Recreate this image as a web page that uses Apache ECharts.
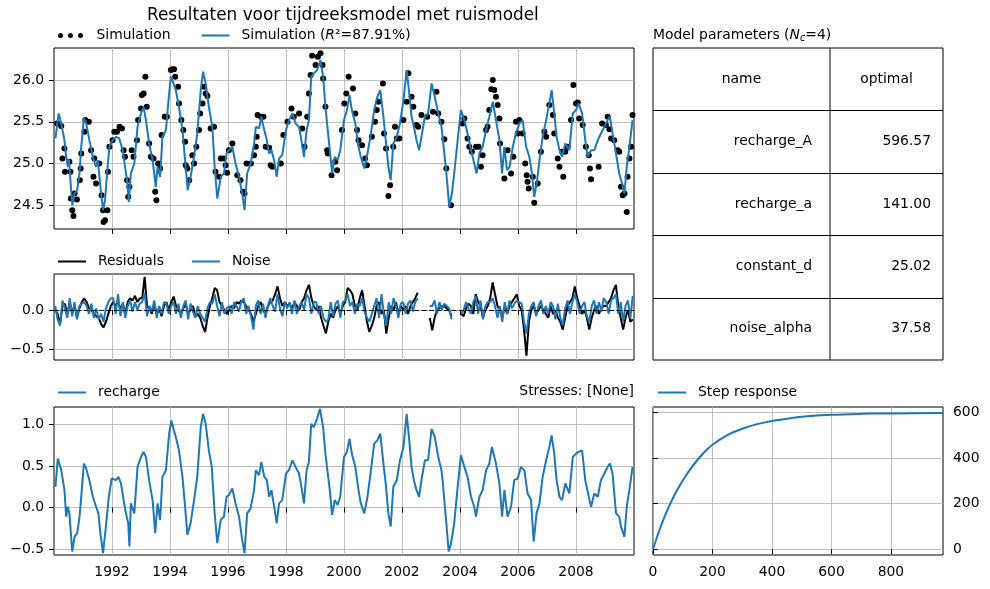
<!DOCTYPE html>
<html>
<head>
<meta charset="utf-8">
<title>Resultaten voor tijdreeksmodel met ruismodel</title>
<script src="https://cdn.jsdelivr.net/npm/echarts@6/dist/echarts.min.js"></script>
<style>
  html, body { margin: 0; padding: 0; background: #fff; }
  #chart { width: 990px; height: 589px; }
</style>
</head>
<body>
<div id="chart"></div>
<script>
// ---- data (decimal years) ----
const obsData = [
  [1990.11,25.48],[1990.25,25.45],[1990.29,25.06],[1990.36,25.18],[1990.38,24.9],[1990.53,25.02],[1990.57,24.9],[1990.58,24.58],
  [1990.63,24.44],[1990.67,24.37],[1990.71,24.64],[1990.79,24.57],[1990.89,24.8],[1990.92,24.94],[1990.94,25.12],[1991.05,25.38],
  [1991.08,25.52],[1991.2,25.5],[1991.28,25.16],[1991.36,24.84],[1991.39,25.06],[1991.45,24.76],[1991.56,25.0],[1991.64,24.62],
  [1991.69,24.44],[1991.71,24.3],[1991.76,24.32],[1991.84,24.44],[1991.86,24.9],[1991.91,25.2],[1992.02,25.28],[1992.08,25.38],
  [1992.17,25.38],[1992.26,25.44],[1992.34,25.42],[1992.4,25.16],[1992.45,25.08],[1992.52,24.8],[1992.56,24.6],[1992.6,24.72],
  [1992.68,25.16],[1992.74,25.08],[1992.86,25.28],[1992.9,25.52],[1993.0,25.66],[1993.03,25.82],[1993.09,25.84],[1993.15,26.04],
  [1993.2,25.68],[1993.28,25.24],[1993.34,25.08],[1993.43,25.06],[1993.49,24.66],[1993.53,24.56],[1993.59,25.0],[1993.66,24.94],
  [1993.71,25.34],[1993.82,25.56],[1993.89,25.56],[1994.03,26.12],[1994.08,26.13],[1994.14,26.13],[1994.18,26.04],[1994.28,25.92],
  [1994.31,25.72],[1994.39,25.52],[1994.46,25.4],[1994.52,25.26],[1994.54,24.98],[1994.6,24.94],[1994.66,24.8],[1994.77,25.1],
  [1994.83,25.0],[1994.91,25.2],[1995.0,25.4],[1995.04,25.6],[1995.12,25.72],[1995.17,25.92],[1995.23,25.84],[1995.29,25.81],
  [1995.4,25.42],[1995.52,25.44],[1995.57,24.9],[1995.69,24.84],[1995.75,25.06],[1995.84,25.06],[1995.92,24.98],[1995.97,24.89],
  [1996.03,25.16],[1996.15,25.24],[1996.32,24.86],[1996.43,24.8],[1996.52,24.66],[1996.57,24.64],[1996.64,25.0],[1996.79,25.0],
  [1996.9,25.1],[1996.96,25.2],[1996.99,25.32],[1997.02,25.58],[1997.13,25.56],[1997.22,25.56],[1997.3,25.2],[1997.42,25.19],
  [1997.47,24.98],[1997.53,24.96],[1997.82,25.0],[1997.91,25.34],[1998.05,25.5],[1998.19,25.66],[1998.27,25.56],[1998.45,25.6],
  [1998.56,25.42],[1998.64,25.2],[1998.73,25.56],[1998.79,25.84],[1998.85,26.06],[1998.9,26.29],[1999.02,26.18],[1999.1,26.28],
  [1999.19,26.32],[1999.26,26.18],[1999.28,26.02],[1999.36,25.68],[1999.42,25.16],[1999.44,25.12],[1999.57,24.86],[1999.7,25.02],
  [1999.76,24.92],[1999.93,25.4],[2000.01,25.72],[2000.08,25.84],[2000.16,26.04],[2000.31,25.9],[2000.39,25.6],[2000.45,25.4],
  [2000.5,25.28],[2000.62,25.22],[2000.73,25.06],[2000.79,24.98],[2000.96,25.32],[2001.07,25.5],[2001.13,25.64],[2001.19,25.74],
  [2001.34,25.96],[2001.38,25.36],[2001.45,25.18],[2001.53,24.61],[2001.59,24.74],[2001.7,25.2],[2001.76,25.44],[2001.82,25.3],
  [2001.91,25.3],[2002.05,25.52],[2002.16,25.74],[2002.22,26.08],[2002.33,25.8],[2002.39,25.68],[2002.5,25.46],[2002.56,25.44],
  [2002.67,25.58],[2002.87,25.56],[2003.07,25.62],[2003.19,25.86],[2003.25,25.6],[2003.36,25.5],[2003.46,25.29],[2003.53,24.94],
  [2003.69,24.5],[2004.09,25.48],[2004.15,25.54],[2004.26,25.3],[2004.32,25.2],[2004.41,25.14],[2004.55,25.2],[2004.64,25.2],
  [2004.72,24.96],[2004.78,25.1],[2004.9,25.4],[2004.95,25.44],[2005.01,25.64],[2005.08,25.89],[2005.13,26.0],[2005.18,25.88],
  [2005.24,25.8],[2005.3,25.7],[2005.36,25.54],[2005.38,25.24],[2005.53,24.82],[2005.64,25.16],[2005.76,24.88],[2005.84,25.08],
  [2005.93,25.5],[2005.99,25.36],[2006.05,25.52],[2006.16,25.36],[2006.25,25.0],[2006.3,24.86],[2006.33,24.78],[2006.37,24.7],
  [2006.51,24.84],[2006.56,24.53],[2006.68,24.76],[2006.79,25.14],[2006.91,25.38],[2006.97,25.32],[2007.08,25.7],[2007.2,25.58],
  [2007.25,25.36],[2007.37,25.06],[2007.43,24.96],[2007.52,25.14],[2007.56,24.84],[2007.63,25.14],[2007.71,25.2],[2007.83,25.52],
  [2007.91,25.94],[2008.0,25.72],[2008.06,25.73],[2008.11,25.54],[2008.23,25.46],[2008.34,25.2],[2008.44,25.1],[2008.48,24.94],
  [2008.52,24.81],[2008.78,24.96],[2008.9,25.48],[2009.03,25.46],[2009.09,25.56],[2009.15,25.41],[2009.21,25.3],[2009.32,25.28],
  [2009.44,25.16],[2009.49,25.14],[2009.55,24.72],[2009.61,24.62],[2009.67,24.64],[2009.75,24.42],[2009.78,24.84],[2009.84,25.06],
  [2009.9,25.2],[2009.95,25.58]
];

const simData = [
  [1990.05,25.3],[1990.16,25.6],[1990.25,25.48],[1990.36,25.28],[1990.42,25.08],[1990.48,24.96],[1990.51,25.05],[1990.55,24.88],
  [1990.63,24.5],[1990.71,24.64],[1990.8,24.68],[1990.88,24.88],[1990.93,25.16],[1991.03,25.54],[1991.11,25.48],[1991.22,25.28],
  [1991.34,25.08],[1991.45,24.96],[1991.51,25.04],[1991.6,24.72],[1991.69,24.44],[1991.76,24.56],[1991.83,24.88],[1991.91,25.2],
  [1992.02,25.28],[1992.14,25.32],[1992.25,25.3],[1992.37,25.16],[1992.45,24.96],[1992.52,24.8],[1992.58,24.54],[1992.65,24.88],
  [1992.77,25.0],[1992.88,25.44],[1993.0,25.6],[1993.09,25.68],[1993.17,25.52],[1993.28,25.24],[1993.4,25.04],[1993.51,24.72],
  [1993.57,24.96],[1993.66,24.84],[1993.74,25.32],[1993.86,25.4],[1993.97,25.84],[1994.03,26.04],[1994.12,25.96],[1994.2,25.88],
  [1994.31,25.68],[1994.43,25.4],[1994.52,25.04],[1994.61,24.68],[1994.71,24.84],[1994.83,25.08],[1994.94,25.36],[1995.06,25.88],
  [1995.14,26.1],[1995.23,25.96],[1995.34,25.68],[1995.46,25.44],[1995.54,24.96],[1995.63,24.58],[1995.75,24.84],[1995.86,24.88],
  [1995.95,25.12],[1996.03,25.16],[1996.15,25.2],[1996.26,25.0],[1996.38,24.84],[1996.49,24.64],[1996.57,24.44],[1996.66,24.88],
  [1996.78,25.0],[1996.9,25.24],[1996.96,25.44],[1997.07,25.42],[1997.15,25.56],[1997.25,25.4],[1997.34,25.28],[1997.42,25.12],
  [1997.5,25.16],[1997.59,25.04],[1997.68,24.84],[1997.76,25.06],[1997.87,25.1],[1998.0,25.4],[1998.1,25.52],[1998.22,25.6],
  [1998.33,25.48],[1998.45,25.44],[1998.53,25.28],[1998.62,25.08],[1998.71,25.4],[1998.79,25.52],[1998.87,26.04],[1998.96,26.08],
  [1999.07,26.12],[1999.19,26.24],[1999.28,26.04],[1999.36,25.68],[1999.44,25.4],[1999.51,25.16],[1999.59,24.88],[1999.68,25.08],
  [1999.78,25.04],[1999.87,25.16],[2000.0,25.52],[2000.1,25.64],[2000.19,25.82],[2000.27,25.64],[2000.39,25.48],[2000.5,25.2],
  [2000.58,25.08],[2000.7,24.94],[2000.81,25.12],[2000.93,25.36],[2001.04,25.64],[2001.15,25.8],[2001.25,25.88],[2001.36,25.56],
  [2001.45,25.24],[2001.53,24.96],[2001.61,24.8],[2001.7,25.24],[2001.82,25.32],[2001.93,25.48],[2002.05,25.76],[2002.16,26.12],
  [2002.25,25.84],[2002.33,25.56],[2002.41,25.44],[2002.5,25.28],[2002.59,25.16],[2002.67,25.32],[2002.79,25.56],[2002.9,25.6],
  [2003.02,25.96],[2003.13,25.8],[2003.25,25.6],[2003.36,25.44],[2003.4,25.32],[2003.52,24.92],[2003.63,24.48],[2003.72,24.64],
  [2003.8,24.88],[2003.92,25.28],[2004.03,25.64],[2004.15,25.52],[2004.26,25.36],[2004.38,25.16],[2004.49,25.0],[2004.57,24.88],
  [2004.67,25.12],[2004.78,25.2],[2004.9,25.4],[2005.01,25.56],[2005.13,25.74],[2005.24,25.52],[2005.36,25.28],[2005.45,24.88],
  [2005.53,25.2],[2005.62,24.92],[2005.71,24.96],[2005.82,25.2],[2005.93,25.36],[2006.05,25.48],[2006.16,25.52],[2006.28,25.2],
  [2006.39,25.08],[2006.48,24.88],[2006.56,24.6],[2006.66,24.8],[2006.74,25.04],[2006.85,25.32],[2006.97,25.52],[2007.08,25.72],
  [2007.16,25.88],[2007.25,25.6],[2007.33,25.32],[2007.43,25.16],[2007.52,25.08],[2007.63,25.24],[2007.77,25.16],[2007.89,25.6],
  [2008.0,25.64],[2008.09,25.72],[2008.21,25.6],[2008.32,25.28],[2008.4,25.08],[2008.52,25.16],[2008.63,25.16],[2008.75,25.28],
  [2008.86,25.36],[2008.98,25.44],[2009.09,25.52],[2009.17,25.56],[2009.26,25.36],[2009.38,25.12],[2009.49,24.88],[2009.59,24.76],
  [2009.67,24.64],[2009.75,24.96],[2009.84,25.2],[2009.95,25.52]
];

const rechargeData = [
  [1990.05,0.25],[1990.13,0.59],[1990.25,0.45],[1990.36,0.21],[1990.42,-0.11],[1990.48,0.01],[1990.53,-0.07],[1990.63,-0.53],
  [1990.71,-0.35],[1990.8,-0.31],[1990.88,-0.11],[1990.93,0.09],[1991.03,0.53],[1991.11,0.47],[1991.22,0.33],[1991.34,0.13],
  [1991.45,0.01],[1991.53,-0.07],[1991.6,-0.31],[1991.69,-0.55],[1991.79,-0.23],[1991.89,0.13],[1991.99,0.35],[1992.14,0.33],
  [1992.22,0.37],[1992.31,0.29],[1992.4,0.09],[1992.48,-0.07],[1992.56,-0.19],[1992.6,-0.47],[1992.65,0.05],[1992.77,-0.07],
  [1992.88,0.49],[1993.0,0.61],[1993.09,0.67],[1993.17,0.61],[1993.28,0.33],[1993.4,0.09],[1993.49,-0.31],[1993.57,0.05],
  [1993.66,-0.15],[1993.74,0.37],[1993.86,0.45],[1993.97,0.89],[1994.05,1.05],[1994.12,0.95],[1994.2,0.85],[1994.31,0.69],
  [1994.43,0.37],[1994.52,0.01],[1994.6,-0.33],[1994.71,-0.19],[1994.83,0.09],[1994.94,0.37],[1995.06,0.97],[1995.14,1.13],
  [1995.23,1.01],[1995.34,0.69],[1995.44,0.49],[1995.54,-0.07],[1995.63,-0.43],[1995.75,-0.15],[1995.86,-0.11],[1995.95,0.13],
  [1996.03,0.15],[1996.15,0.23],[1996.26,0.05],[1996.38,-0.11],[1996.49,-0.39],[1996.57,-0.55],[1996.66,-0.07],[1996.78,-0.01],
  [1996.9,0.21],[1996.96,0.45],[1997.07,0.39],[1997.15,0.55],[1997.25,0.37],[1997.34,0.33],[1997.42,0.13],[1997.5,0.21],
  [1997.59,0.01],[1997.68,-0.19],[1997.76,0.05],[1997.87,0.09],[1998.0,0.41],[1998.1,0.45],[1998.22,0.57],[1998.33,0.49],
  [1998.45,0.41],[1998.53,0.25],[1998.62,0.05],[1998.71,0.45],[1998.79,0.55],[1998.87,1.01],[1998.96,0.97],[1999.07,1.07],
  [1999.17,1.19],[1999.28,0.97],[1999.36,0.65],[1999.44,0.41],[1999.51,0.21],[1999.59,-0.09],[1999.68,0.09],[1999.78,0.03],
  [1999.87,0.13],[2000.0,0.61],[2000.1,0.67],[2000.19,0.83],[2000.27,0.65],[2000.39,0.49],[2000.5,0.21],[2000.58,0.05],
  [2000.7,-0.07],[2000.81,0.13],[2000.93,0.45],[2001.04,0.77],[2001.15,0.81],[2001.25,0.89],[2001.36,0.53],[2001.45,0.25],
  [2001.53,-0.07],[2001.61,-0.23],[2001.7,0.25],[2001.82,0.33],[2001.93,0.57],[2002.05,0.73],[2002.16,1.13],[2002.25,0.81],
  [2002.33,0.49],[2002.41,0.33],[2002.5,0.21],[2002.59,0.13],[2002.67,0.33],[2002.79,0.57],[2002.9,0.57],[2003.02,0.95],
  [2003.13,0.85],[2003.25,0.61],[2003.36,0.45],[2003.4,0.33],[2003.52,-0.15],[2003.61,-0.53],[2003.69,-0.43],[2003.8,-0.19],
  [2003.92,0.25],[2004.03,0.63],[2004.15,0.49],[2004.26,0.37],[2004.38,0.13],[2004.49,0.01],[2004.55,-0.11],[2004.67,0.13],
  [2004.78,0.21],[2004.9,0.45],[2005.01,0.53],[2005.1,0.73],[2005.24,0.53],[2005.36,0.29],[2005.45,-0.11],[2005.53,0.21],
  [2005.64,-0.11],[2005.76,0.01],[2005.87,0.33],[2005.99,0.35],[2006.1,0.49],[2006.22,0.45],[2006.33,0.17],[2006.45,0.09],
  [2006.54,-0.41],[2006.64,-0.07],[2006.74,0.05],[2006.85,0.37],[2006.97,0.57],[2007.08,0.73],[2007.16,0.87],[2007.25,0.65],
  [2007.33,0.33],[2007.43,0.13],[2007.52,0.09],[2007.63,0.29],[2007.77,0.17],[2007.89,0.61],[2008.0,0.65],[2008.09,0.67],
  [2008.21,0.69],[2008.32,0.33],[2008.44,0.13],[2008.52,0.01],[2008.63,0.17],[2008.75,0.13],[2008.86,0.33],[2008.98,0.41],
  [2009.09,0.49],[2009.17,0.53],[2009.26,0.41],[2009.38,-0.07],[2009.49,-0.11],[2009.55,-0.23],[2009.67,-0.35],[2009.75,0.01],
  [2009.84,0.21],[2009.95,0.49]
];

// monthly residuals and noise, Jan..Dec per row, null = no observations
const residualValues = [
  0.0, -0.05, -0.18, 0.05, 0.08, -0.06, 0.1, -0.04, 0.06, -0.1, 0.02, 0.1,        // 1990
  0.15, 0.1, 0.02, 0.0, -0.05, -0.08, -0.1, -0.18, -0.22, -0.15, -0.05, 0.05,     // 1991
  0.1, 0.05, 0.12, 0.0, 0.08, -0.05, 0.1, 0.15, 0.12, 0.18, 0.1, 0.15,            // 1992
  0.15, 0.42, 0.05, 0.02, -0.05, 0.08, -0.05, 0.02, -0.08, 0.05, 0.1, 0.0,        // 1993
  0.1, 0.17, 0.05, 0.0, -0.05, 0.02, 0.08, -0.05, 0.0, 0.05, -0.08, -0.05,        // 1994
  -0.1, -0.2, -0.28, -0.1, 0.05, 0.15, 0.28, 0.25, 0.1, 0.05, 0.0, -0.05,         // 1995
  0.0, 0.05, 0.02, 0.1, 0.08, 0.12, 0.1, 0.05, 0.0, -0.05, -0.15, -0.05,          // 1996
  0.05, 0.1, 0.0, -0.05, 0.05, 0.1, 0.12, 0.2, 0.3, 0.15, 0.05, 0.1,              // 1997
  0.05, 0.08, 0.02, 0.1, 0.05, 0.0, 0.1, 0.15, 0.25, 0.32, 0.15, 0.05,            // 1998
  0.0, 0.05, -0.1, -0.2, -0.3, -0.15, -0.05, -0.1, 0.0, 0.05, -0.05, 0.05,        // 1999
  0.1, 0.28, 0.25, 0.2, 0.05, 0.0, 0.15, 0.25, 0.05, -0.15, -0.28, -0.2,          // 2000
  -0.1, 0.05, 0.1, -0.05, 0.0, -0.3, -0.1, 0.05, 0.0, 0.1, -0.05, 0.05,           // 2001
  0.0, 0.05, -0.05, 0.05, 0.1, 0.15, 0.22, null, null, null, null, -0.1,         // 2002
  -0.26, -0.1, 0.0, 0.02, 0.05, 0.05, 0.02, 0.0, -0.08, null, null, null,        // 2003
  -0.05, -0.08, 0.02, 0.08, 0.05, -0.05, 0.2, 0.1, 0.05, -0.1, 0.0, 0.05,         // 2004
  0.15, 0.35, 0.2, 0.05, 0.0, -0.1, 0.05, -0.05, 0.05, 0.1, 0.15, 0.2,            // 2005
  0.05, 0.0, -0.25, -0.58, -0.15, 0.0, 0.05, -0.05, 0.0, 0.05, 0.0, -0.05,        // 2006
  -0.1, 0.05, -0.05, 0.0, -0.1, -0.15, -0.25, -0.1, 0.05, 0.1, 0.15, 0.3,         // 2007
  0.15, 0.05, -0.05, 0.0, -0.1, -0.25, -0.1, 0.0, 0.05, -0.05, 0.02, 0.05,        // 2008
  0.05, 0.1, 0.15, 0.25, 0.32, 0.05, -0.1, -0.25, -0.1, 0.0, -0.15, -0.12         // 2009
];
const noiseValues = [
  0.05, -0.12, -0.2, 0.12, 0.02, -0.1, 0.15, -0.08, 0.1, -0.12, 0.05, 0.08,       // 1990
  0.1, 0.05, -0.05, 0.08, -0.1, 0.02, -0.12, -0.05, -0.15, 0.02, 0.1, 0.15,       // 1991
  0.15, -0.05, 0.2, -0.08, 0.1, -0.1, 0.05, 0.12, -0.02, 0.1, 0.0, 0.08,          // 1992
  0.1, 0.22, -0.08, 0.05, -0.02, 0.12, -0.1, 0.05, -0.05, 0.1, 0.08, -0.05,       // 1993
  0.05, 0.1, -0.05, 0.08, -0.1, 0.05, 0.12, -0.12, 0.08, -0.02, -0.1, 0.05,       // 1994
  -0.05, -0.1, -0.15, 0.02, 0.1, 0.08, 0.2, 0.05, -0.08, 0.1, -0.05, 0.02,        // 1995
  0.05, -0.05, 0.1, 0.05, -0.02, 0.1, 0.15, -0.05, 0.05, -0.08, -0.25, 0.05,      // 1996
  0.12, -0.05, 0.08, -0.1, 0.05, 0.15, 0.05, -0.02, 0.2, 0.02, -0.08, 0.1,        // 1997
  0.02, 0.1, -0.05, 0.12, -0.05, 0.05, 0.1, 0.0, 0.2, 0.15, -0.05, 0.1,           // 1998
  0.1, -0.05, 0.05, -0.1, -0.15, -0.12, 0.1, -0.08, 0.08, 0.12, -0.1, 0.1,        // 1999
  0.12, 0.2, 0.05, 0.1, -0.05, 0.08, 0.05, 0.15, -0.02, -0.1, -0.15, -0.05,       // 2000
  0.05, 0.15, -0.1, 0.2, -0.05, -0.2, 0.1, -0.05, 0.15, 0.05, -0.1, 0.08,         // 2001
  0.1, -0.05, 0.08, 0.12, -0.02, 0.1, 0.15, null, null, null, null, 0.05,        // 2002
  0.05, 0.12, -0.05, 0.1, 0.0, 0.08, 0.05, 0.02, -0.12, null, null, null,        // 2003
  -0.05, 0.0, 0.1, 0.02, -0.05, 0.1, 0.18, -0.05, 0.12, -0.12, 0.05, 0.1,         // 2004
  0.1, 0.15, 0.05, -0.1, 0.05, -0.15, 0.1, -0.05, 0.12, 0.02, 0.08, 0.12,         // 2005
  0.1, 0.08, -0.15, -0.3, -0.05, 0.05, 0.1, -0.08, 0.05, 0.12, -0.05, 0.05,       // 2006
  -0.05, 0.1, 0.05, -0.12, 0.08, -0.1, -0.2, 0.02, 0.12, -0.05, 0.1, 0.2,         // 2007
  0.1, -0.05, 0.05, 0.1, -0.08, -0.15, 0.05, 0.12, -0.05, 0.1, -0.02, 0.15,       // 2008
  0.1, -0.05, 0.12, 0.15, 0.2, -0.05, 0.1, -0.15, 0.05, 0.12, -0.1, 0.18          // 2009
];

const stepData = [
  [0,0],[20,78],[40,146],[60,205],[80,256],[100,301],[125,350],[150,392],[175,428],[200,458],
  [250,500],[300,528],[350,548],[400,562],[450,572],[500,580],[600,589],[700,593],[800,595],[975,597]
];

const paramNames = ['recharge_A', 'recharge_a', 'constant_d', 'noise_alpha'];
const paramValues = ['596.57', '141.00', '25.02', '37.58'];

// tick positions
const yearTicks = [1992, 1994, 1996, 1998, 2000, 2002, 2004, 2006, 2008];
const headTicks = [24.5, 25.0, 25.5, 26.0];
const residTicks = [-0.5, 0.0];
const rechTicks = [-0.5, 0.0, 0.5, 1.0];
const lagTicks = [0, 200, 400, 600, 800];
const stepTicks = [0, 200, 400, 600];

// ---- helpers ----
const FONT = 'DejaVu Sans';
const FS = 13.9;          // 10pt at 100 dpi
const BLUE = '#1f77b4';
const monthT = i => +(1990 + (i + 0.5) / 12).toFixed(3);
const monthly = vals => vals.map((v, i) => [monthT(i), v == null ? '-' : v]);
const minus = (v, d) => (v < 0 ? '\u2212' : '') + Math.abs(v).toFixed(d);

const labelStyle = {color: '#000', fontSize: FS, fontFamily: FONT};
const gridLine = {show: true, lineStyle: {color: '#b0b0b0', width: 0.8}};

function makeAxis(gridIndex, min, max, ticks, opts) {
  opts = opts || {};
  return {
    type: 'value', gridIndex, min, max,
    position: opts.position,
    axisLine: {show: false},
    axisTick: {show: true, length: 5, customValues: ticks, lineStyle: {color: '#000', width: 1}},
    axisLabel: Object.assign({
      show: opts.labels !== false, customValues: ticks, margin: 10,
      formatter: opts.fmt || (v => String(v))
    }, labelStyle),
    splitLine: gridLine
  };
}

const legendBase = {
  orient: 'horizontal', itemWidth: 28, itemHeight: 5, itemGap: 28, padding: 0,
  selectedMode: false,
  textStyle: Object.assign({padding: [0, 0, 0, 7]}, labelStyle)
};
const lineIcon = 'path://M0,0H28V2H0Z';
const dotsIcon = 'path://M0,2.5a2.5,2.5 0 1,0 5,0a2.5,2.5 0 1,0 -5,0Z M10,2.5a2.5,2.5 0 1,0 5,0a2.5,2.5 0 1,0 -5,0Z M20,2.5a2.5,2.5 0 1,0 5,0a2.5,2.5 0 1,0 -5,0Z';

// parameter table drawn as graphic elements
const tbl = {left: 653, top: 48, mid: 830, right: 943, rowH: 62.4};
const tableGraphics = [];
tableGraphics.push({type: 'rect', shape: {x: tbl.left, y: tbl.top, width: tbl.right - tbl.left, height: tbl.rowH * 5},
  style: {fill: 'none', stroke: '#000', lineWidth: 1}, silent: true});
tableGraphics.push({type: 'line', shape: {x1: tbl.mid, y1: tbl.top, x2: tbl.mid, y2: tbl.top + tbl.rowH * 5},
  style: {stroke: '#000', lineWidth: 1}, silent: true});
for (let r = 1; r < 5; r++) {
  const y = Math.round(tbl.top + tbl.rowH * r) + 0.5;
  tableGraphics.push({type: 'line', shape: {x1: tbl.left, y1: y, x2: tbl.right, y2: y},
    style: {stroke: '#000', lineWidth: 1}, silent: true});
}
const cellFont = FS + 'px "DejaVu Sans"';
tableGraphics.push({type: 'text', x: (tbl.left + tbl.mid) / 2, y: tbl.top + tbl.rowH / 2,
  style: {text: 'name', font: cellFont, fill: '#000', align: 'center', verticalAlign: 'middle'}});
tableGraphics.push({type: 'text', x: (tbl.mid + tbl.right) / 2, y: tbl.top + tbl.rowH / 2,
  style: {text: 'optimal', font: cellFont, fill: '#000', align: 'center', verticalAlign: 'middle'}});
paramNames.forEach((name, i) => {
  const y = tbl.top + tbl.rowH * (i + 1.5);
  tableGraphics.push({type: 'text', x: tbl.mid - 18, y,
    style: {text: name, font: cellFont, fill: '#000', align: 'right', verticalAlign: 'middle'}});
  tableGraphics.push({type: 'text', x: tbl.right - 12, y,
    style: {text: paramValues[i], font: cellFont, fill: '#000', align: 'right', verticalAlign: 'middle'}});
});

const chart = echarts.init(document.getElementById('chart'), null, {renderer: 'canvas'});

const option = {
  animation: false,
  backgroundColor: '#fff',
  title: {
    text: 'Resultaten voor tijdreeksmodel met ruismodel',
    left: 147, top: 7, padding: 0,
    textStyle: {fontFamily: FONT, fontSize: 16.9, fontWeight: 'normal', color: '#000'}
  },
  grid: [
    {left: 54, top: 48, width: 580, height: 181},
    {left: 54, top: 274, width: 580, height: 86},
    {left: 54, top: 407, width: 580, height: 148},
    {left: 653, top: 407, width: 290, height: 148}
  ].map(g => Object.assign({show: true, borderColor: '#000', borderWidth: 1, backgroundColor: 'transparent',
    containLabel: false, outerBoundsMode: 'none'}, g)),
  xAxis: [
    makeAxis(0, 1990, 2010, yearTicks, {labels: false}),
    makeAxis(1, 1990, 2010, yearTicks, {labels: false}),
    makeAxis(2, 1990, 2010, yearTicks),
    makeAxis(3, 0, 975, lagTicks)
  ],
  yAxis: [
    makeAxis(0, 24.215, 26.384, headTicks, {fmt: v => minus(v, 1)}),
    makeAxis(1, -0.636, 0.457, residTicks, {fmt: v => minus(v, 1)}),
    makeAxis(2, -0.572, 1.212, rechTicks, {fmt: v => minus(v, 1)}),
    makeAxis(3, -25, 623, stepTicks, {position: 'right'})
  ],
  legend: [
    Object.assign({}, legendBase, {
      left: 58, top: 28.5, itemGap: 31,
      data: [{name: 'Simulation', icon: dotsIcon}, {name: 'SimulationR2', icon: lineIcon}],
      formatter: name => name === 'SimulationR2' ? '{a|Simulation (}{i|R}{a|\u00b2=87.91%)}' : name,
      textStyle: Object.assign({}, legendBase.textStyle, {
        rich: {a: {fontFamily: FONT, fontSize: FS, color: '#000'},
               i: {fontFamily: FONT, fontSize: FS, color: '#000', fontStyle: 'italic'}}
      })
    }),
    Object.assign({}, legendBase, {left: 58, top: 254.5,
      data: [{name: 'Residuals', icon: lineIcon}, {name: 'Noise', icon: lineIcon}]}),
    Object.assign({}, legendBase, {left: 58, top: 385.5, data: [{name: 'recharge', icon: lineIcon}]}),
    Object.assign({}, legendBase, {left: 658, top: 385.5, data: [{name: 'Step response', icon: lineIcon}]})
  ],
  graphic: [
    {type: 'text', x: 634, y: 391, style: {text: 'Stresses: [None]', font: cellFont, fill: '#000',
      align: 'right', verticalAlign: 'middle'}},
    {type: 'text', x: 653, y: 35, style: {
      text: '{a|Model parameters (}{i|N}{s|c}{a|=4)}', verticalAlign: 'middle', align: 'left',
      rich: {
        a: {fontFamily: FONT, fontSize: FS, fill: '#000'},
        i: {fontFamily: FONT, fontSize: FS, fill: '#000', fontStyle: 'italic'},
        s: {fontFamily: FONT, fontSize: 9.7, fill: '#000', fontStyle: 'italic', verticalAlign: 'bottom', padding: [6, 0, 0, 0]}
      }
    }}
  ].concat(tableGraphics),
  series: [
    {
      name: 'Simulation', type: 'scatter', xAxisIndex: 0, yAxisIndex: 0,
      data: obsData, symbol: 'circle', symbolSize: 6, itemStyle: {color: '#000', opacity: 1}, z: 2
    },
    {
      name: 'SimulationR2', type: 'line', xAxisIndex: 0, yAxisIndex: 0,
      data: simData, showSymbol: false, itemStyle: {color: BLUE},
      lineStyle: {color: BLUE, width: 2}, z: 3
    },
    {
      name: 'Residuals', type: 'line', xAxisIndex: 1, yAxisIndex: 1,
      data: monthly(residualValues), showSymbol: false, connectNulls: false,
      itemStyle: {color: '#000'}, lineStyle: {color: '#000', width: 2}, z: 2,
      markLine: {
        silent: true, symbol: 'none', label: {show: false},
        lineStyle: {color: '#000', type: [5, 2.5], width: 1},
        data: [{yAxis: 0}]
      }
    },
    {
      name: 'Noise', type: 'line', xAxisIndex: 1, yAxisIndex: 1,
      data: monthly(noiseValues), showSymbol: false, connectNulls: false,
      itemStyle: {color: BLUE}, lineStyle: {color: BLUE, width: 2}, z: 3
    },
    {
      name: 'recharge', type: 'line', xAxisIndex: 2, yAxisIndex: 2,
      data: rechargeData, showSymbol: false,
      itemStyle: {color: BLUE}, lineStyle: {color: BLUE, width: 2}
    },
    {
      name: 'Step response', type: 'line', xAxisIndex: 3, yAxisIndex: 3,
      data: stepData, showSymbol: false, smooth: 0.3,
      itemStyle: {color: BLUE}, lineStyle: {color: BLUE, width: 2}
    }
  ]
};

chart.setOption(option);
window.addEventListener('resize', () => chart.resize());
</script>
</body>
</html>
